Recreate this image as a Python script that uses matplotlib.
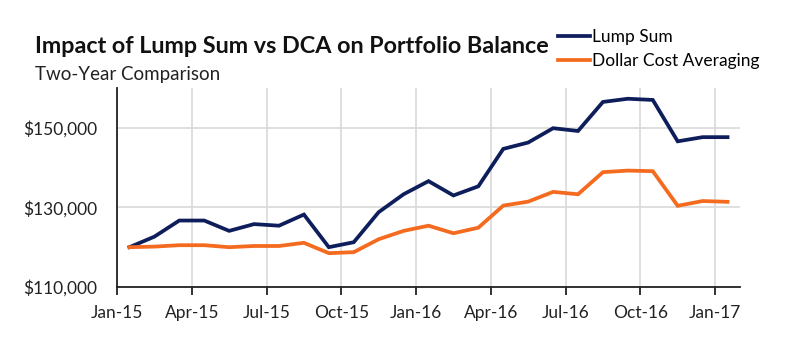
import matplotlib
matplotlib.use("Agg")
import matplotlib.pyplot as plt
from matplotlib.ticker import FuncFormatter

plt.rcParams['font.family'] = ['Lato', 'DejaVu Sans']

months = list(range(25))  # Jan-15 .. Jan-17, monthly
lump_sum = [120000, 122650, 126700, 126700, 124100, 125800, 125400, 128200,
            120000, 121250, 128800, 133300, 136600, 133000, 135300, 144700,
            146300, 149900, 149200, 156500, 157300, 157000, 146600, 147650, 147650]
dca = [120000, 120150, 120500, 120500, 120000, 120300, 120300, 121100,
       118500, 118750, 122000, 124100, 125400, 123500, 124900, 130450,
       131450, 133900, 133300, 138850, 139250, 139100, 130400, 131600, 131400]
tick_labels = ['Jan-15', 'Apr-15', 'Jul-15', 'Oct-15', 'Jan-16',
               'Apr-16', 'Jul-16', 'Oct-16', 'Jan-17']
y_ticks = [110000, 130000, 150000]

navy = '#0E1E5B'
orange = '#F46A1F'

fig = plt.figure(figsize=(7.89, 3.54), dpi=100)
ax = fig.add_axes([0.1483, 0.1893, 0.7896, 0.5621])

x = [m + 0.5 for m in months]
ax.plot(x, lump_sum, color=navy, lw=2.7, label='Lump Sum', solid_joinstyle='miter')
ax.plot(x, dca, color=orange, lw=2.7, label='Dollar Cost Averaging', solid_joinstyle='miter')

ax.set_xlim(0, 25)
ax.set_ylim(110000, 160000)
ax.set_xticks(range(0, 25, 3))
ax.set_xticklabels(tick_labels)
ax.set_yticks(y_ticks)
ax.yaxis.set_major_formatter(FuncFormatter(lambda v, p: f"${v:,.0f}"))

ax.grid(True, color='#D9D9D9', lw=1.2)
ax.set_axisbelow(True)
for s in ['top', 'right']:
    ax.spines[s].set_visible(False)
ax.spines['left'].set_color('#222222')
ax.spines['bottom'].set_color('#222222')
ax.spines['left'].set_linewidth(1.3)
ax.spines['bottom'].set_linewidth(1.3)
ax.tick_params(axis='y', length=0, labelsize=12.5, pad=14, colors='#222222')
ax.tick_params(axis='x', length=6, width=1.3, labelsize=12.5, pad=7, colors='#222222')

fig.text(0.044, 0.85, 'Impact of Lump Sum vs DCA on Portfolio Balance',
         fontsize=16.8, fontweight='bold', color='#111111')
fig.text(0.044, 0.774, 'Two-Year Comparison', fontsize=13.5, color='#222222')

leg = fig.legend(loc='upper left', bbox_to_anchor=(0.707, 0.918), frameon=False,
                 fontsize=12.5, handlelength=1.85, handletextpad=0.1,
                 labelspacing=0.45, borderpad=0, borderaxespad=0)

fig.savefig('out.png', dpi=100)
